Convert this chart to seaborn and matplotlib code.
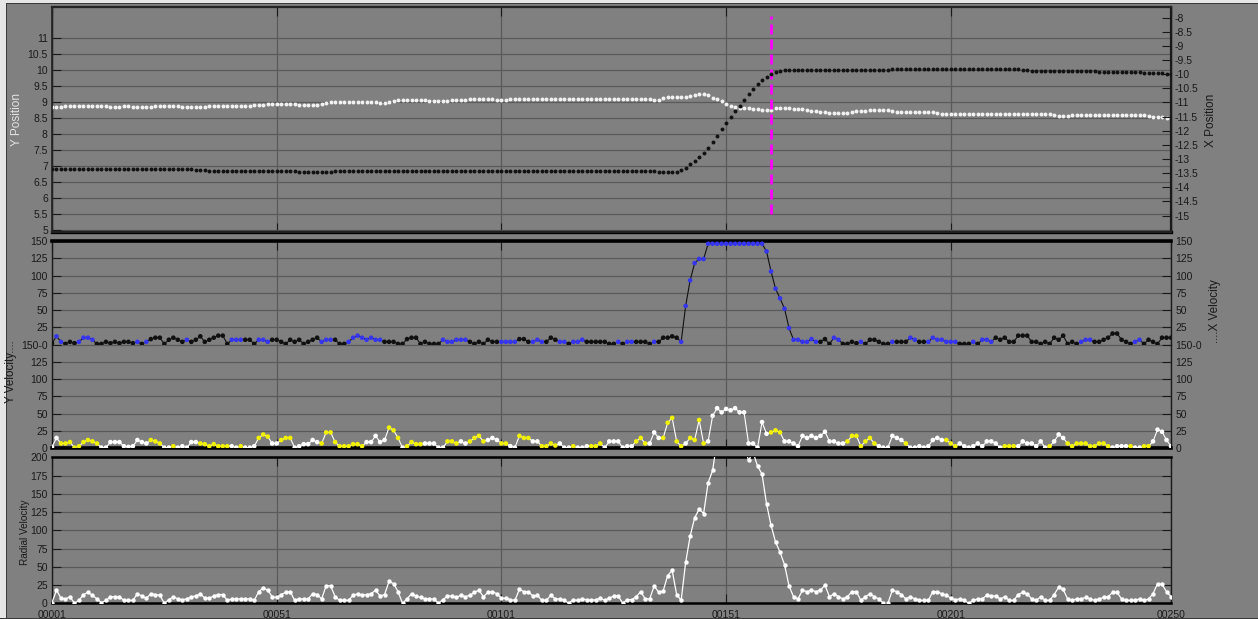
import numpy as np
import pandas as pd
import matplotlib
matplotlib.use("Agg")
import matplotlib.pyplot as plt
import seaborn as sns
from matplotlib.patches import Rectangle

# ---------------------------------------------------------------- data
tick_frames = [1, 51, 101, 151, 201, 250]
tick_names = ["00001", "00051", "00101", "00151", "00201", "00250"]
event_frame = 161

y_position = [
    8.85, 8.85, 8.86, 8.87, 8.88, 8.89, 8.89, 8.89, 8.89, 8.88,
    8.88, 8.87, 8.87, 8.86, 8.86, 8.86, 8.87, 8.87, 8.86, 8.85,
    8.85, 8.85, 8.86, 8.87, 8.87, 8.87, 8.87, 8.87, 8.87, 8.86,
    8.86, 8.85, 8.85, 8.85, 8.86, 8.87, 8.87, 8.87, 8.87, 8.87,
    8.87, 8.87, 8.88, 8.88, 8.89, 8.90, 8.91, 8.92, 8.93, 8.93,
    8.93, 8.93, 8.93, 8.93, 8.93, 8.92, 8.92, 8.92, 8.92, 8.92,
    8.93, 8.96, 9.00, 9.00, 9.01, 9.01, 9.01, 9.00, 9.00, 9.00,
    9.00, 9.00, 8.99, 8.96, 8.96, 9.01, 9.04, 9.05, 9.05, 9.05,
    9.06, 9.06, 9.06, 9.05, 9.04, 9.04, 9.04, 9.04, 9.04, 9.05,
    9.05, 9.06, 9.07, 9.08, 9.09, 9.09, 9.09, 9.08, 9.08, 9.07,
    9.07, 9.07, 9.08, 9.09, 9.10, 9.10, 9.10, 9.10, 9.10, 9.10,
    9.10, 9.10, 9.10, 9.10, 9.11, 9.11, 9.11, 9.10, 9.10, 9.10,
    9.10, 9.10, 9.10, 9.10, 9.10, 9.10, 9.10, 9.11, 9.11, 9.10,
    9.10, 9.10, 9.10, 9.09, 9.07, 9.07, 9.14, 9.16, 9.16, 9.16,
    9.16, 9.17, 9.18, 9.22, 9.24, 9.24, 9.21, 9.14, 9.08, 9.03,
    8.95, 8.89, 8.85, 8.81, 8.80, 8.80, 8.79, 8.78, 8.76, 8.74,
    8.76, 8.81, 8.82, 8.81, 8.80, 8.79, 8.78, 8.77, 8.74, 8.72,
    8.71, 8.70, 8.68, 8.67, 8.66, 8.66, 8.66, 8.66, 8.70, 8.71,
    8.72, 8.73, 8.74, 8.74, 8.74, 8.74, 8.74, 8.73, 8.70, 8.70,
    8.70, 8.70, 8.70, 8.69, 8.69, 8.69, 8.68, 8.65, 8.64, 8.64,
    8.64, 8.64, 8.64, 8.64, 8.64, 8.64, 8.64, 8.64, 8.64, 8.64,
    8.64, 8.63, 8.63, 8.63, 8.64, 8.64, 8.64, 8.64, 8.64, 8.64,
    8.63, 8.63, 8.63, 8.60, 8.56, 8.56, 8.57, 8.58, 8.58, 8.58,
    8.58, 8.58, 8.58, 8.58, 8.58, 8.58, 8.58, 8.58, 8.58, 8.58,
    8.58, 8.58, 8.58, 8.58, 8.57, 8.54, 8.52, 8.52, 8.51, 8.51,
]

x_position = [
    -13.37, -13.37, -13.37, -13.37, -13.36, -13.36, -13.36, -13.35, -13.35, -13.34,
    -13.34, -13.34, -13.34, -13.34, -13.34, -13.34, -13.34, -13.34, -13.34, -13.34,
    -13.34, -13.35, -13.35, -13.35, -13.35, -13.35, -13.35, -13.35, -13.35, -13.35,
    -13.36, -13.37, -13.38, -13.39, -13.40, -13.41, -13.42, -13.43, -13.43, -13.43,
    -13.44, -13.44, -13.44, -13.44, -13.44, -13.44, -13.44, -13.44, -13.44, -13.44,
    -13.44, -13.44, -13.44, -13.44, -13.44, -13.45, -13.45, -13.45, -13.45, -13.45,
    -13.46, -13.46, -13.45, -13.43, -13.42, -13.41, -13.41, -13.41, -13.41, -13.41,
    -13.41, -13.41, -13.41, -13.41, -13.41, -13.41, -13.42, -13.43, -13.44, -13.44,
    -13.44, -13.44, -13.44, -13.44, -13.44, -13.44, -13.44, -13.44, -13.44, -13.44,
    -13.43, -13.42, -13.41, -13.41, -13.41, -13.41, -13.42, -13.43, -13.44, -13.44,
    -13.44, -13.44, -13.44, -13.44, -13.44, -13.44, -13.44, -13.44, -13.44, -13.44,
    -13.44, -13.44, -13.44, -13.44, -13.44, -13.44, -13.44, -13.44, -13.44, -13.44,
    -13.44, -13.44, -13.44, -13.44, -13.44, -13.44, -13.44, -13.44, -13.44, -13.44,
    -13.44, -13.44, -13.44, -13.44, -13.44, -13.45, -13.46, -13.46, -13.47, -13.47,
    -13.39, -13.30, -13.19, -13.08, -12.94, -12.80, -12.60, -12.39, -12.19, -11.95,
    -11.74, -11.51, -11.30, -11.11, -10.90, -10.71, -10.51, -10.33, -10.19, -10.10,
    -10.00, -9.93, -9.89, -9.87, -9.86, -9.86, -9.86, -9.86, -9.86, -9.86,
    -9.86, -9.86, -9.86, -9.86, -9.85, -9.85, -9.85, -9.85, -9.85, -9.85,
    -9.85, -9.85, -9.85, -9.85, -9.85, -9.85, -9.84, -9.83, -9.83, -9.83,
    -9.83, -9.83, -9.83, -9.83, -9.83, -9.83, -9.82, -9.81, -9.80, -9.80,
    -9.80, -9.80, -9.80, -9.80, -9.80, -9.80, -9.80, -9.80, -9.80, -9.81,
    -9.82, -9.83, -9.83, -9.83, -9.83, -9.83, -9.84, -9.86, -9.88, -9.89,
    -9.89, -9.89, -9.89, -9.89, -9.89, -9.89, -9.89, -9.89, -9.90, -9.90,
    -9.90, -9.90, -9.90, -9.91, -9.92, -9.93, -9.93, -9.93, -9.93, -9.93,
    -9.94, -9.94, -9.94, -9.95, -9.95, -9.96, -9.96, -9.97, -9.98, -9.98,
]

# signed velocities: sign picks the marker colour, magnitude is plotted
x_velocity = [
    -2, 12, 4, -1, -4, -2, 4, 10, 10, 7,
    -1, -1, -4, -2, -4, -2, -4, -4, -2, 4,
    -1, 4, -8, -10, -10, -1, -7, -10, -7, -4,
    7, -4, -7, -12, -4, -7, -10, -13, -13, -1,
    7, 7, 7, -7, -7, -1, 7, 7, 4, -7,
    -7, -4, -1, -7, -4, -7, -1, -4, -7, -10,
    4, 7, 7, -7, -1, -1, 4, 10, 13, 10,
    7, 10, 7, 7, -4, -4, -4, -1, -1, -8,
    -10, -10, -1, -4, -1, -1, -1, 7, 4, 4,
    7, 7, 7, -4, -1, -4, -1, -7, -4, -4,
    4, 4, 4, 4, -8, -8, -4, 4, 7, 4,
    -4, -10, -7, 4, 4, -1, 4, 4, 7, -4,
    -4, -4, -4, -4, -1, -1, 4, -1, 4, 4,
    -4, -4, -4, -1, 4, -4, -10, -10, -12, -10,
    4, 56, 93, 118, 124, 124, 146, 146, 146, 146,
    146, 146, 146, 146, 146, 146, 146, 146, 146, 135,
    106, 81, 67, 52, 24, 7, 7, 4, 4, 8,
    4, -4, -8, -1, 10, 7, -1, -1, -4, -2,
    4, -1, -7, -7, -4, -1, -1, 4, -4, -4,
    -4, 10, 7, -4, -4, 4, 10, 7, 7, 4,
    4, 4, -1, -1, -1, 4, -1, 7, 7, 4,
    -10, -7, -10, -4, -4, -13, -13, -13, -4, -4,
    -1, -4, -1, -10, -7, -13, -1, -4, -1, 4,
    7, 7, -4, -4, -7, -10, -16, -16, -7, -4,
    -1, 4, 7, -1, -7, -4, -1, -10, -10, -10,
]

y_velocity = [
    -2, -15, 7, 7, 9, 1, 3, 9, 12, 10,
    7, -1, -1, -9, -9, -9, -3, -2, -3, -12,
    -9, -7, 12, 10, 7, -1, -1, 3, -1, -3,
    -1, -9, -9, 7, 6, 3, 6, 3, 3, 3,
    -3, -1, 3, -1, -1, -3, 15, 20, 17, -7,
    -7, 12, 15, 15, -1, -3, -6, -6, -12, -9,
    7, 23, 23, 9, 3, 3, 3, 6, 6, 3,
    -9, -9, -18, -9, -12, 30, 26, 15, -1, 3,
    9, 6, 6, -7, -7, -7, -1, -1, 10, 10,
    7, -10, -7, 10, 15, 18, 10, -12, -15, -12,
    7, 7, -3, -1, 18, 15, 15, -10, -10, 3,
    3, 7, 4, -7, -1, -1, 3, -1, -1, -3,
    3, 3, 7, -1, -10, -10, -10, -1, -3, -3,
    10, 15, 7, -7, -23, -15, 15, 37, 44, 10,
    3, -7, 15, 12, 41, 7, -10, -47, -58, -52,
    -57, -55, -58, -52, -52, -7, -7, -1, -38, -21,
    23, 26, 23, -10, -10, -7, -3, -18, -15, -18,
    -15, -18, -24, -10, -10, -7, -7, 10, 18, 18,
    3, 10, 15, 7, -3, -1, -1, -18, -15, -12,
    7, -1, -1, -3, -1, -3, -12, -15, -12, 12,
    7, 3, -7, -3, -1, -3, -7, -3, -10, -10,
    -7, -1, 3, 3, 3, -3, -10, -7, -7, -3,
    -10, -1, 3, -10, -20, -15, 7, 3, 7, 7,
    7, 3, 3, 7, 7, 3, -1, -3, -3, -3,
    3, -1, -1, 3, 3, -10, -27, -24, -12, -3,
]

radial_velocity = [
    1, 18, 7, 6, 9, 0, 4, 12, 15, 11,
    6, 1, 4, 9, 9, 9, 4, 4, 4, 13,
    10, 7, 13, 12, 11, 0, 5, 9, 6, 5,
    6, 9, 10, 13, 7, 7, 10, 12, 12, 4,
    6, 6, 6, 6, 6, 4, 16, 21, 18, 9,
    8, 12, 15, 16, 4, 6, 6, 6, 13, 12,
    6, 24, 24, 9, 4, 4, 4, 11, 13, 11,
    12, 13, 18, 10, 12, 30, 27, 16, 0, 6,
    13, 10, 8, 6, 6, 6, 0, 5, 10, 10,
    8, 11, 9, 11, 15, 18, 9, 15, 16, 13,
    7, 7, 5, 4, 19, 16, 16, 10, 11, 4,
    4, 11, 6, 6, 4, 0, 5, 4, 6, 5,
    4, 5, 7, 4, 7, 10, 10, 0, 5, 5,
    9, 16, 6, 6, 24, 15, 17, 38, 45, 12,
    4, 56, 92, 117, 129, 123, 165, 182, 223, 248,
    262, 266, 255, 236, 214, 196, 207, 188, 177, 136,
    107, 84, 70, 53, 24, 9, 6, 18, 16, 18,
    16, 18, 25, 9, 13, 9, 6, 9, 16, 16,
    4, 9, 13, 9, 6, 0, 0, 18, 16, 12,
    6, 9, 6, 4, 4, 4, 16, 16, 13, 11,
    7, 5, 6, 4, 0, 4, 6, 6, 11, 10,
    10, 6, 9, 4, 4, 12, 15, 13, 6, 4,
    9, 4, 4, 12, 22, 19, 6, 4, 6, 6,
    8, 6, 4, 6, 8, 9, 15, 15, 6, 4,
    4, 4, 6, 4, 6, 13, 27, 26, 16, 9,
]

frames = np.arange(1, len(y_position) + 1)
pos_df = pd.DataFrame({"frame": frames, "y_pos": y_position, "x_pos": x_position})
vel_df = pd.DataFrame({"frame": frames, "x_vel": x_velocity,
                       "y_vel": y_velocity, "radial": radial_velocity})
vel_df["x_speed"] = vel_df["x_vel"].abs()
vel_df["y_speed"] = vel_df["y_vel"].abs()
vel_df["x_dir"] = np.where(vel_df["x_vel"] >= 0, "pos", "neg")
vel_df["y_dir"] = np.where(vel_df["y_vel"] >= 0, "pos", "neg")

# ---------------------------------------------------------------- style
BG = "#808080"
INK = "#1a1a1a"
GRID = "#5a5a5a"
sns.set_theme(style="white")
plt.rcParams["font.family"] = ["Liberation Sans", "DejaVu Sans"]

W, H = 1258, 619
fig = plt.figure(figsize=(W / 100, H / 100), dpi=100, facecolor=BG)


def box(x0, y0, x1, y1):
    return [x0 / W, 1 - y1 / H, (x1 - x0) / W, (y1 - y0) / H]


ax_pos = fig.add_axes(box(52, 7, 1171, 232))
ax_vx = fig.add_axes(box(52, 241, 1171, 344.6))
ax_vy = fig.add_axes(box(52, 344.6, 1171, 448.3))
ax_rad = fig.add_axes(box(52, 457.3, 1171, 603.3))
ax_xpos = ax_pos.twinx()

for ax in (ax_pos, ax_vx, ax_vy, ax_rad):
    ax.set_facecolor(BG)
    ax.set_xlim(1, 250)
    ax.set_xticks(tick_frames)
    ax.grid(True, color=GRID, lw=0.9)
    ax.set_axisbelow(True)
    ax.tick_params(direction="in", length=6.5, width=0.8, color=INK,
                   labelsize=7.5, labelcolor=INK, pad=3)
    for s in ax.spines.values():
        s.set_color(INK)
        s.set_linewidth(1.0)
    ax.set_xlabel("")
    ax.set_ylabel("")

# ---------------------------------------------------------------- positions
ax_pos.set_ylim(4.94, 11.97)
ax_pos.set_yticks(np.arange(5, 11.01, 0.5))
ax_pos.set_yticklabels([f"{v:g}" for v in np.arange(5, 11.01, 0.5)])
ax_pos.tick_params(axis="x", top=True, bottom=True, labelbottom=False)
ax_pos.tick_params(axis="y", left=True, right=False)
ax_pos.spines["bottom"].set_linewidth(2.4)
ax_pos.spines["bottom"].set_color("black")
ax_pos.spines["top"].set_linewidth(1.6)

ax_xpos.set_ylim(-15.58, -7.625)
ax_xpos.set_yticks(np.arange(-15, -7.99, 0.5))
ax_xpos.set_yticklabels([f"{v:g}" for v in np.arange(-15, -7.99, 0.5)])
ax_xpos.tick_params(axis="y", direction="in", length=6.5, width=0.8, color=INK,
                    labelsize=7.5, labelcolor=INK, pad=2.5)
ax_xpos.spines["right"].set_linewidth(1.6)
ax_xpos.spines["right"].set_color(INK)

sns.scatterplot(data=pos_df, x="frame", y="y_pos", ax=ax_pos, color="#f2f2f2",
                s=8, linewidth=0, marker="o", zorder=3)
sns.scatterplot(data=pos_df, x="frame", y="x_pos", ax=ax_xpos, color="#121212",
                s=8, linewidth=0, marker="o", zorder=3)
ax_pos.plot([event_frame, event_frame], [5.5, 11.68], color="#ff00ff", lw=2.0,
            ls=(0, (3.6, 1.8)), zorder=4)
ax_pos.set_xlabel("")
ax_pos.set_ylabel("")
ax_xpos.set_xlabel("")
ax_xpos.set_ylabel("")

# ---------------------------------------------------------------- velocities
speed_ticks = np.arange(0, 151, 25)
ax_vx.set_ylim(0, 150)
ax_vy.set_ylim(0, 150)
for ax in (ax_vx, ax_vy):
    ax.set_yticks(speed_ticks)
    ax.tick_params(axis="y", left=True, right=True, labelleft=True,
                   labelright=True)
ax_vx.set_yticklabels([""] + [str(v) for v in speed_ticks[1:]])
ax_vy.set_yticklabels([str(v) for v in speed_ticks[:-1]] + ["150-0"])
ax_vx.tick_params(axis="x", top=True, bottom=False, labelbottom=False)
ax_vy.tick_params(axis="x", top=False, bottom=True, labelbottom=False)
ax_vx.spines["bottom"].set_visible(False)
ax_vy.spines["top"].set_visible(False)
ax_vx.spines["top"].set_linewidth(2.6)
ax_vx.spines["top"].set_color("black")
ax_vy.spines["bottom"].set_linewidth(2.6)
ax_vy.spines["bottom"].set_color("black")
ax_vy.grid(True, axis="y", color=GRID, lw=0.9)

sns.lineplot(data=vel_df, x="frame", y="x_speed", ax=ax_vx, color="#111111",
             lw=0.8, estimator=None, sort=False, zorder=3)
sns.scatterplot(data=vel_df, x="frame", y="x_speed", hue="x_dir", ax=ax_vx,
                palette={"pos": "#3535f0", "neg": "#101010"}, s=11,
                linewidth=0, legend=False, zorder=4)
sns.lineplot(data=vel_df, x="frame", y="y_speed", ax=ax_vy, color="#ffffff",
             lw=0.8, estimator=None, sort=False, zorder=3)
sns.scatterplot(data=vel_df, x="frame", y="y_speed", hue="y_dir", ax=ax_vy,
                palette={"pos": "#f2f200", "neg": "#ffffff"}, s=11,
                linewidth=0, legend=False, zorder=4)
for ax in (ax_vx, ax_vy):
    ax.set_xlabel("")
    ax.set_ylabel("")

# ---------------------------------------------------------------- radial
ax_rad.set_ylim(0, 200)
ax_rad.set_yticks(np.arange(0, 201, 25))
ax_rad.tick_params(axis="y", left=True, right=True, labelright=False)
ax_rad.tick_params(axis="x", top=True, bottom=True, labelbottom=True, pad=4.5)
ax_rad.set_xticklabels(tick_names)
ax_rad.spines["top"].set_linewidth(1.8)
ax_rad.spines["top"].set_color("black")
ax_rad.spines["bottom"].set_linewidth(1.8)
ax_rad.spines["bottom"].set_color("black")
sns.lineplot(data=vel_df, x="frame", y="radial", ax=ax_rad, color="#ffffff",
             lw=0.9, estimator=None, sort=False, zorder=3)
sns.scatterplot(data=vel_df, x="frame", y="radial", ax=ax_rad, color="#ffffff",
                s=10, linewidth=0, zorder=4)
ax_rad.set_xlabel("")
ax_rad.set_ylabel("")

# ---------------------------------------------------------------- labels
def vlabel(x, y, text, color=INK, size=8.4):
    fig.text(x / W, 1 - y / H, text, rotation=90, ha="center", va="center",
             color=color, fontsize=size)


vlabel(16.7, 120, "Y Position", color="#e2e2e2", size=8.5)
vlabel(1211, 120, "X Position", size=8.5)
vlabel(11, 372, "Y Velocity....", size=8.4)
vlabel(1215, 311, "....X Velocity", size=8.4)
vlabel(25, 532, "Radial Velocity", size=7.2)

# window frame edges
fig.add_artist(Rectangle((0, 0), 5.5 / W, 1, transform=fig.transFigure,
                         color="#e6e6e6", lw=0))
fig.add_artist(Rectangle((5.5 / W, 0), 1 / W, 1 - 3 / H, transform=fig.transFigure,
                         color="#3a3a3a", lw=0))
fig.add_artist(Rectangle((0, 1 - 2.5 / H), 1, 2.5 / H, transform=fig.transFigure,
                         color="#e6e6e6", lw=0))
fig.add_artist(Rectangle((5.5 / W, 1 - 3.5 / H), 1, 1 / H, transform=fig.transFigure,
                         color="#3a3a3a", lw=0))
fig.add_artist(Rectangle((0, 0), 1, 1.5 / H, transform=fig.transFigure,
                         color="#3a3a3a", lw=0))

fig.savefig("out.png", dpi=100, facecolor=BG)
